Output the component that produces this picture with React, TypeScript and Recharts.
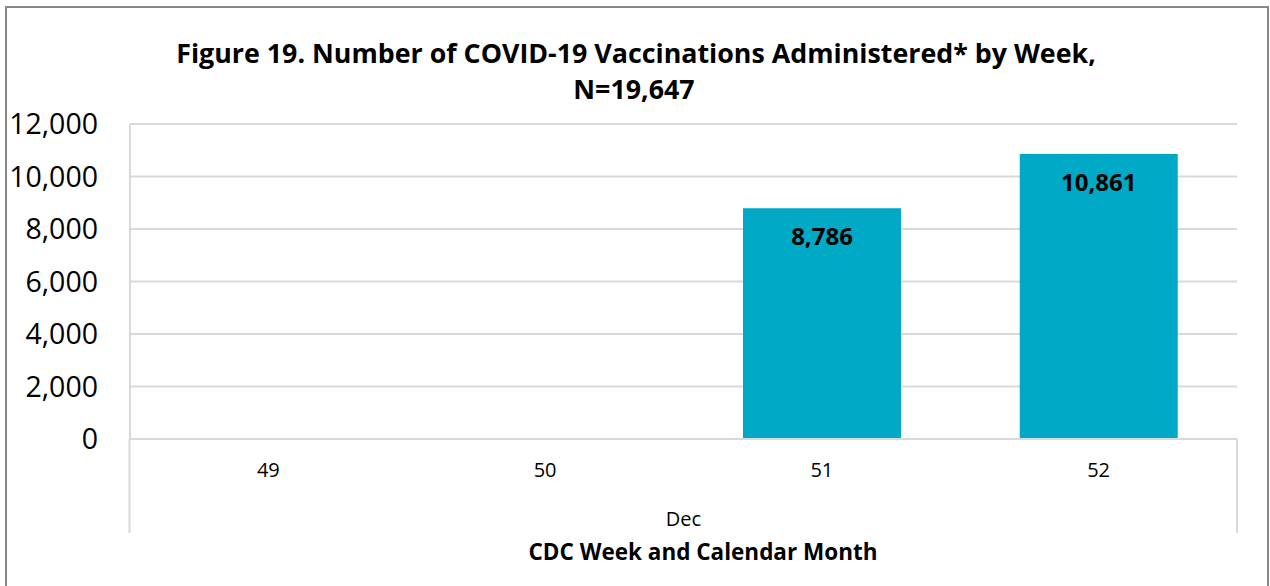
import React from 'react';
import { BarChart, Bar, XAxis, YAxis, CartesianGrid, LabelList, Label } from 'recharts';

const weeks = ['49', '50', '51', '52'];
const vaccinations: (number | null)[] = [null, null, 8786, 10861];
const yTicks = [0, 2000, 4000, 6000, 8000, 10000, 12000];
const monthLabel = 'Dec';
const titleLines = ['Figure 19. Number of COVID-19 Vaccinations Administered* by Week,', 'N=19,647'];
const xAxisTitle = 'CDC Week and Calendar Month';

const data = weeks.map((w, i) => ({ week: w, value: vaccinations[i] }));

const FONT = '"Open Sans", "Noto Sans", sans-serif';
const fmt = (v: any) => (v === null || v === undefined || v === 0 ? '' : Number(v).toLocaleString('en-US'));

const AxisExtras = (props: any) => {
  const vb = props.viewBox || {};
  const x = vb.x ?? 130;
  const y = vb.y ?? 439;
  const w = vb.width ?? 1107;
  const bottom = y + 94;
  return (
    <g>
      <line x1={x - 0.5} y1={y} x2={x - 0.5} y2={bottom} stroke="#d9d9d9" strokeWidth={2} />
      <line x1={x + w} y1={y} x2={x + w} y2={bottom} stroke="#d9d9d9" strokeWidth={2} />
      <text x={x + w / 2} y={y + 79} textAnchor="middle" dominantBaseline="central" fontFamily={FONT} fontSize={20} fill="#000">
        {monthLabel}
      </text>
      <text x={x + w / 2 + 19.5} y={y + 112} textAnchor="middle" dominantBaseline="central" fontFamily={FONT} fontSize={22.5} fontWeight="bold" fill="#000">
        {xAxisTitle}
      </text>
    </g>
  );
};

export default function App() {
  return (
    <div style={{ position: 'fixed', left: 0, top: 0, width: 1270, height: 586, overflow: 'hidden', background: '#fff' }}>
      <div style={{ position: 'absolute', left: 5, top: 6, width: 1260, height: 640, border: '2px solid #878787' }} />
      <div style={{ position: 'absolute', left: 0, top: 0 }}>
        <BarChart width={1270} height={586} data={data} margin={{ top: 124, right: 33, bottom: 47, left: 0 }} barCategoryGap="21.5%">
          <text x={636} y={52} textAnchor="middle" dominantBaseline="central" fontFamily={FONT} fontSize={26.8} fontWeight="bold" fill="#000">
            {titleLines[0]}
          </text>
          <text x={634} y={88} textAnchor="middle" dominantBaseline="central" fontFamily={FONT} fontSize={26.8} fontWeight="bold" fill="#000">
            {titleLines[1]}
          </text>
          <CartesianGrid vertical={false} stroke="#d9d9d9" strokeWidth={2} />
          <YAxis
            width={130}
            domain={[0, 12000]}
            ticks={yTicks}
            interval={0}
            tickFormatter={(v: number) => v.toLocaleString('en-US')}
            axisLine={{ stroke: '#d9d9d9', strokeWidth: 2 }}
            tickLine={false}
            tickSize={0}
            tickMargin={32}
            tick={{ fontFamily: FONT, fontSize: 28.5, fill: '#000' }}
          />
          <XAxis
            dataKey="week"
            height={100}
            axisLine={{ stroke: '#d9d9d9', strokeWidth: 2 }}
            tickLine={false}
            tickSize={0}
            tickMargin={24}
            interval={0}
            tick={{ fontFamily: FONT, fontSize: 20, fill: '#000' }}
          >
            <Label content={<AxisExtras />} />
          </XAxis>
          <Bar dataKey="value" fill="#00A9C6" isAnimationActive={false}>
            <LabelList dataKey="value" position="insideTop" offset={20} formatter={fmt} style={{ fontFamily: FONT, fontSize: 24, fontWeight: 'bold', fill: '#000' }} />
          </Bar>
        </BarChart>
      </div>
    </div>
  );
}
